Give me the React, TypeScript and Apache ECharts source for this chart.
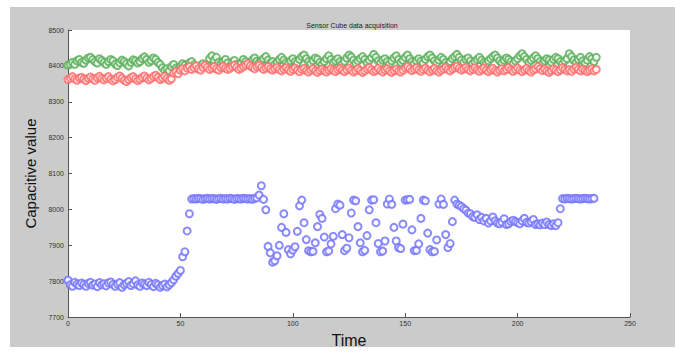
import React, { useEffect, useRef } from "react";
import * as echarts from "echarts";

const chartTitle = "Sensor Cube data acquisition";
const xAxisName = "Time";
const yAxisName = "Capacitive value";
const xTicks = { min: 0, max: 250, interval: 50 };
const yTicks = { min: 7700, max: 8500, interval: 100 };

const greenValues: number[] = [
  8402, 8405, 8410, 8404, 8414, 8418, 8410, 8407, 8416, 8422, 8424,
  8418, 8412, 8408, 8420, 8415, 8410, 8404, 8412, 8418, 8414,
  8405, 8401, 8409, 8416, 8412, 8406, 8400, 8410, 8417, 8414,
  8408, 8412, 8420, 8425, 8418, 8410, 8415, 8422, 8418, 8410,
  8404, 8395, 8388, 8392, 8386, 8398, 8404, 8394, 8390, 8398, 8406,
  8402, 8396, 8408, 8412, 8403, 8396, 8392, 8401, 8406, 8398,
  8402, 8420, 8428, 8416, 8424, 8410, 8405, 8412, 8418, 8408,
  8398, 8410, 8415, 8404, 8396, 8408, 8418, 8412, 8406, 8410,
  8416, 8422, 8413, 8408, 8414, 8420, 8426, 8416, 8408, 8412,
  8404, 8410, 8418, 8424, 8416, 8410, 8406, 8414, 8420, 8412,
  8408, 8418, 8426, 8430, 8420, 8412, 8406, 8415, 8422, 8418,
  8410, 8404, 8412, 8420, 8428, 8418, 8410, 8414, 8420, 8412,
  8406, 8413, 8422, 8430, 8425, 8416, 8408, 8414, 8420, 8426,
  8418, 8410, 8416, 8423, 8432, 8424, 8414, 8408, 8416, 8420,
  8412, 8405, 8414, 8422, 8428, 8418, 8410, 8416, 8424, 8430,
  8420, 8412, 8406, 8414, 8420, 8413, 8408, 8418, 8426, 8430,
  8422, 8414, 8408, 8416, 8424, 8418, 8410, 8404, 8412, 8420,
  8426, 8432, 8424, 8416, 8410, 8418, 8422, 8414, 8406, 8412,
  8418, 8424, 8416, 8410, 8406, 8414, 8420, 8426, 8430, 8422,
  8414, 8408, 8416, 8422, 8418, 8412, 8406, 8414, 8420, 8428,
  8434, 8426, 8418, 8410, 8416, 8422, 8428, 8420, 8412, 8406,
  8414, 8420, 8416, 8410, 8418, 8424, 8420, 8412, 8406, 8414,
  8420, 8434, 8426, 8416, 8410, 8418, 8424, 8414, 8408, 8416,
  8426, 8420, 8412, 8424,
];

const redValues: number[] = [
  8362, 8366, 8370, 8364, 8360, 8366, 8368, 8363, 8359, 8365, 8369,
  8364, 8360, 8367, 8371, 8365, 8361, 8366, 8370, 8363, 8358,
  8362, 8368, 8372, 8366, 8360, 8356, 8362, 8367, 8370, 8364,
  8359, 8363, 8368, 8372, 8366, 8361, 8365, 8370, 8374, 8368,
  8362, 8366, 8371, 8365, 8360, 8364, 8380, 8384, 8378, 8388, 8392,
  8386, 8394, 8398, 8390, 8395, 8400, 8392, 8388, 8396, 8402,
  8396, 8390, 8394, 8398, 8392, 8388, 8395, 8399, 8394, 8390,
  8393, 8398, 8402, 8396, 8390, 8394, 8398, 8402, 8406, 8400,
  8396, 8392, 8398, 8402, 8396, 8390, 8394, 8398, 8392, 8388,
  8392, 8396, 8390, 8386, 8391, 8395, 8389, 8385, 8390, 8394,
  8388, 8384, 8390, 8393, 8387, 8383, 8388, 8392, 8386, 8382,
  8387, 8391, 8386, 8383, 8388, 8392, 8387, 8384, 8389, 8393,
  8388, 8384, 8389, 8394, 8388, 8383, 8387, 8392, 8387, 8382,
  8386, 8391, 8395, 8389, 8384, 8388, 8393, 8387, 8383, 8388,
  8392, 8386, 8382, 8387, 8391, 8386, 8383, 8388, 8394, 8398,
  8392, 8387, 8391, 8395, 8389, 8385, 8390, 8394, 8388, 8384,
  8389, 8393, 8387, 8383, 8388, 8392, 8396, 8390, 8386, 8391,
  8395, 8399, 8393, 8388, 8392, 8396, 8390, 8386, 8391, 8395,
  8389, 8385, 8390, 8394, 8388, 8384, 8389, 8393, 8387, 8383,
  8388, 8392, 8386, 8390, 8395, 8389, 8385, 8390, 8394, 8388,
  8384, 8389, 8393, 8387, 8383, 8388, 8392, 8398, 8392, 8387,
  8391, 8386, 8382, 8387, 8392, 8388, 8384, 8389, 8395, 8390,
  8386, 8390, 8385, 8391, 8396, 8390, 8386, 8391, 8387, 8384,
  8388, 8392, 8386, 8390,
];

const blueValues: number[] = [
  // t 0-44
  7803, 7790, 7786, 7797, 7792, 7788, 7795, 7791, 7786, 7794,
  7797, 7789, 7792, 7785, 7796, 7790, 7793, 7787, 7795, 7798,
  7791, 7786, 7792, 7796, 7783, 7790, 7794, 7799, 7788, 7793,
  7801, 7790, 7786, 7795, 7792, 7788, 7797, 7791, 7785, 7794,
  7790, 7783, 7788, 7792, 7784,
  // t 45-55
  7790, 7796, 7804, 7814, 7822, 7830, 7868, 7882, 7940, 7988, 8029,
  // t 56-84
  8030, 8029, 8031, 8030, 8028, 8030, 8031, 8029, 8030, 8030,
  8028, 8030, 8031, 8029, 8030, 8029, 8031, 8030, 8028, 8030,
  8030, 8029, 8031, 8030, 8029, 8030, 8028, 8031, 8032,
  // t 85-99
  8040, 8066, 8028, 7999, 7897, 7879, 7853, 7857, 7871, 7900,
  7950, 7988, 7936, 7888, 7876,
  // t 100-219
  7887, 7896, 7939, 8010, 8026, 7963, 7916, 7885, 7882, 7883,
  7907, 7952, 7986, 7975, 7923, 7882, 7884, 7904, 7925, 8002,
  8015, 8012, 7930, 7885, 7892, 7921, 7990, 8026, 8024, 7952,
  7907, 7882, 7886, 7927, 7999, 8026, 8027, 7963, 7905, 7882,
  7884, 7912, 8015, 8029, 8014, 7950, 7912, 7894, 7891, 7959,
  8026, 8027, 8028, 7943, 7885, 7886, 7904, 7975, 8026, 8024,
  7934, 7888, 7882, 7883, 7915, 8015, 8029, 8014, 7930, 7894,
  7905, 7966, 8026, 8015, 8012, 8008, 8002, 7998, 7990, 7988,
  7980, 7978, 7985, 7972, 7978, 7968, 7975, 7962, 7968, 7979,
  7968, 7962, 7960, 7965, 7974, 7958, 7960, 7966, 7970, 7966,
  7963, 7960, 7968, 7975, 7964, 7962, 7966, 7972, 7958, 7960,
  7957, 7962, 7958, 7965, 7958, 7955, 7960, 7955, 7963, 8002,
  // t 220-234
  8030, 8029, 8031, 8030, 8029, 8030, 8031, 8030, 8029, 8030,
  8031, 8030, 8029, 8030, 8031,
];

const seriesColors = { green: "#5cb05c", red: "#ff6e6e", blue: "#7676ff" };

const toPoints = (vals: number[]) => vals.map((v, i) => [i, v]);

export default function App() {
  const ref = useRef<HTMLDivElement>(null);
  useEffect(() => {
    if (!ref.current) return;
    const chart = echarts.init(ref.current, undefined, { renderer: "svg" });
    const font = "Liberation Sans, Arial, sans-serif";
    const mkSeries = (name: string, vals: number[], color: string) => ({
      name,
      type: "scatter",
      data: toPoints(vals),
      symbol: "emptyCircle",
      symbolSize: 7,
      itemStyle: { color, borderColor: color, borderWidth: 0.8, opacity: 0.85 },
      emphasis: { disabled: true },
    });
    const axisCommon = {
      type: "value",
      axisLine: { show: true, lineStyle: { color: "#555", width: 1 } },
      axisTick: { show: true, inside: true, length: 4, lineStyle: { color: "#555" } },
      axisLabel: { fontSize: 7, color: "#333", fontFamily: font, margin: 4, formatter: (v: number) => String(v) },
      splitLine: { show: false },
      nameLocation: "middle",
      nameTextStyle: { fontSize: 15, color: "#111", fontFamily: font },
    };
    chart.setOption({
      animation: false,
      backgroundColor: "#ffffff",
      graphic: [
        {
          type: "rect",
          z: -10,
          silent: true,
          shape: { x: 10, y: 7, width: 665, height: 340 },
          style: { fill: "#cbcbcb" },
        },
      ],
      title: {
        text: chartTitle,
        left: 347,
        textAlign: "center",
        top: 17,
        textStyle: { fontSize: 7, fontWeight: "normal", color: "#222", fontFamily: font },
      },
      grid: {
        left: 68,
        right: 53,
        top: 30,
        bottom: 26,
        show: true,
        backgroundColor: "#ffffff",
        borderWidth: 0,
      },
      xAxis: {
        ...axisCommon,
        min: xTicks.min,
        max: xTicks.max,
        interval: xTicks.interval,
        name: xAxisName,
        nameGap: 8,
        nameTextStyle: { fontSize: 16, color: "#111", fontFamily: font },
        axisLabel: { fontSize: 7, color: "#333", fontFamily: font, margin: 3, formatter: (v: number) => String(v) },
      },
      yAxis: {
        ...axisCommon,
        min: yTicks.min,
        max: yTicks.max,
        interval: yTicks.interval,
        name: yAxisName,
        nameGap: 27,
        nameRotate: 90,
      },
      series: [
        mkSeries("green", greenValues, seriesColors.green),
        mkSeries("red", redValues, seriesColors.red),
        mkSeries("blue", blueValues, seriesColors.blue),
      ],
    });
    return () => chart.dispose();
  }, []);
  return (
    <div
      ref={ref}
      style={{ position: "fixed", left: 0, top: 0, width: 683, height: 353 }}
    />
  );
}
